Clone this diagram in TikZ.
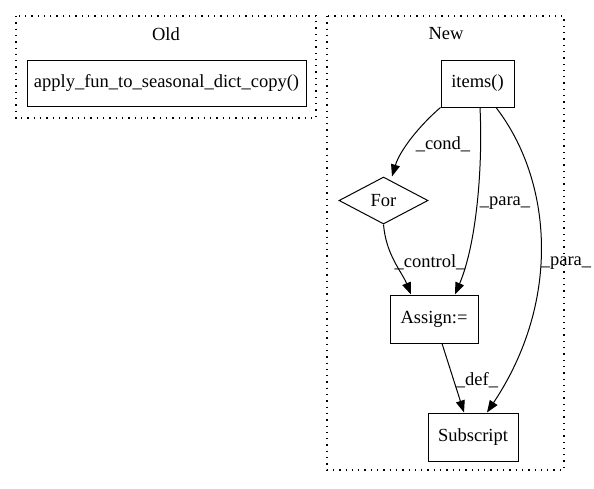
\documentclass[tikz,border=0pt]{standalone}
\usepackage{fontspec}
\setmainfont{Liberation Serif}
\usetikzlibrary{arrows.meta,shapes.geometric,calc}
\begin{document}
\begin{tikzpicture}[x=1pt,y=-1pt,
  every node/.style={font=\fontsize{18.5}{21}\selectfont},
  box/.style={draw,line width=1pt,rectangle,inner sep=0pt},
  clus/.style={draw,line width=1.2pt,dash pattern=on 1.3pt off 5pt},
  edge/.style={draw,line width=1pt,-{Triangle[length=12pt,width=9pt]}},
  lbl/.style={inner sep=0pt}]
\useasboundingbox (0,0) rectangle (594,488);
% clusters
\draw[clus] (16,16) rectangle (316,118);
\node[lbl] (oldlbl) at (166,34) {Old};
\draw[clus] (327,16) rectangle (564,470);
\node[lbl] (newlbl) at (446,34) {New};
% nodes
\node[box,minimum width=279pt,minimum height=46pt] (apply) at (166.5,83) {apply\_fun\_to\_seasonal\_dict\_copy()};
\node[box,minimum width=73pt,minimum height=47pt] (items) at (477.5,83.5) {items()};
\node[draw,line width=1pt,diamond,aspect=1.9,inner sep=0pt,minimum width=89pt,minimum height=47pt] (for) at (383.5,200.5) {For};
\node[box,minimum width=88pt,minimum height=48pt] (assign) at (434,319) {Assign:=};
\node[box,minimum width=90pt,minimum height=48pt] (sub) at (473,437) {Subscript};
% edges
\draw[edge] (items.south west) .. controls (420,125) and (400,150) .. ($(for.north)+(8.5,0)$);
\draw[edge] ($(items.south)+(2.5,0)$) .. controls (483,170) and (476,245) .. ($(assign.north)+(21,0)$);
\draw[edge] ($(items.south)+(18.5,0)$) .. controls (552,180) and (562,300) .. ($(sub.north)+(14,0)$);
\draw[edge] (for.south) .. controls (386,255) and (402,272) .. ($(assign.north)+(-23,0)$);
\draw[edge] ($(assign.south)+(8,0)$) -- ($(sub.north)+(-9,0)$);
% labels
\node[lbl] (l1) at (443,144) {\_cond\_};
\node[lbl] (l2) at (505,203) {\_para\_};
\node[lbl] (l3) at (566,263) {\_para\_};
\node[lbl] (l4) at (430,262) {\_control\_};
\node[lbl] (l5) at (477,380) {\_def\_};
\end{tikzpicture}
\end{document}
